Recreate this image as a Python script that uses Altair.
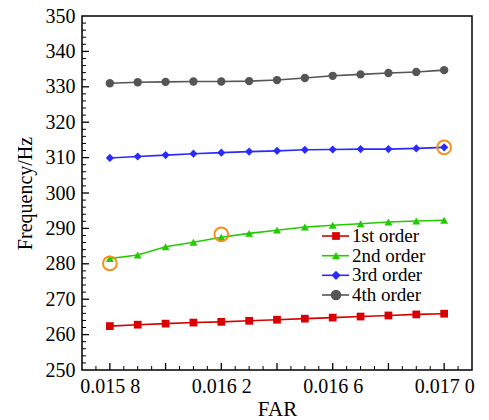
import altair as alt
import pandas as pd

far = [0.0158, 0.0159, 0.0160, 0.0161, 0.0162, 0.0163, 0.0164,
       0.0165, 0.0166, 0.0167, 0.0168, 0.0169, 0.0170]
series = ["1st order", "2nd order", "3rd order", "4th order"]
f1 = [262.4, 262.8, 263.1, 263.4, 263.6, 263.9, 264.2, 264.5, 264.8, 265.1, 265.4, 265.7, 265.9]
f2 = [281.5, 282.5, 284.8, 286.1, 287.5, 288.6, 289.5, 290.4, 290.9, 291.3, 291.8, 292.1, 292.3]
f3 = [309.9, 310.3, 310.7, 311.1, 311.4, 311.7, 311.9, 312.2, 312.3, 312.4, 312.4, 312.6, 312.9]
f4 = [331.0, 331.3, 331.4, 331.5, 331.5, 331.6, 331.9, 332.5, 333.1, 333.5, 333.9, 334.2, 334.7]
hl_far = [0.0158, 0.0162, 0.0170]
hl_freq = [280.1, 288.3, 312.9]

colors = ["#d80000", "#22cc00", "#2a2aff", "#555555"]
shapes = ["square", "triangle-up", "diamond", "circle"]
sizes = [60, 70, 85, 110]

x_label_ticks = [0.0158, 0.0162, 0.0166, 0.0170]
x_major_ticks = [0.0158, 0.0160, 0.0162, 0.0164, 0.0166, 0.0168, 0.0170]
x_minor_ticks = [0.01575, 0.01585, 0.01590, 0.01595, 0.01605,
                 0.01610, 0.01615, 0.01625, 0.01630, 0.01635,
                 0.01645, 0.01650, 0.01655, 0.01665, 0.01670, 0.01675,
                 0.01685, 0.01690, 0.01695, 0.01705]
y_major = [250, 260, 270, 280, 290, 300, 310, 320, 330, 340, 350]
y_major_ticks = [260, 270, 280, 290, 300, 310, 320, 330, 340]
y_minor = [252, 254, 256, 258, 262, 264, 266, 268, 272, 274, 276, 278,
           282, 284, 286, 288, 292, 294, 296, 298, 302, 304, 306, 308,
           312, 314, 316, 318, 322, 324, 326, 328, 332, 334, 336, 338,
           342, 344, 346, 348]

rows = []
for name, vals in zip(series, [f1, f2, f3, f4]):
    for xv, yv in zip(far, vals):
        rows.append({"FAR": xv, "freq": yv, "series": name})
df = pd.DataFrame(rows)
hl = pd.DataFrame({"FAR": hl_far, "freq": hl_freq})

W, H = 390, 354
FONT = "Liberation Serif"
X_LO, X_HI = 0.01570, 0.01710
Y_LO, Y_HI = 250, 350
xscale = alt.Scale(domain=[X_LO, X_HI], nice=False, zero=False)
yscale = alt.Scale(domain=[Y_LO, Y_HI], nice=False, zero=False)
cscale = alt.Scale(domain=series, range=colors)

lab_expr = ("substring(format(datum.value, '.4f'), 0, 5) + ' ' + "
            "substring(format(datum.value, '.4f'), 5)")

xaxis = alt.Axis(values=x_label_ticks, labelExpr=lab_expr, ticks=False,
                 domain=False, grid=False, title="FAR",
                 labelPadding=6, titlePadding=2, labelFont=FONT,
                 labelFontSize=20, titleFont=FONT, titleFontSize=21,
                 titleFontWeight="normal", labelColor="black",
                 titleColor="black", labelFlush=False)
yaxis = alt.Axis(values=y_major, ticks=False, domain=False,
                 grid=False, title="Frequency/Hz", labelPadding=7,
                 titlePadding=10, labelFont=FONT, labelFontSize=20,
                 titleFont=FONT, titleFontSize=20, titleFontWeight="normal",
                 labelColor="black", titleColor="black")

X = alt.X("FAR:Q", scale=xscale, axis=xaxis)
Y = alt.Y("freq:Q", scale=yscale, axis=yaxis)

lines = alt.Chart(df).mark_line(strokeWidth=1.6).encode(
    x=X, y=Y,
    color=alt.Color("series:N", scale=cscale, legend=None),
    detail="series:N",
)

points = alt.Chart(df).mark_point(filled=True, opacity=1).encode(
    x=X, y=Y,
    color=alt.Color("series:N", scale=cscale, legend=None),
    shape=alt.Shape("series:N", scale=alt.Scale(domain=series, range=shapes), legend=None),
    size=alt.Size("series:O", scale=alt.Scale(domain=series, range=sizes), legend=None),
)

circles = alt.Chart(hl).mark_point(filled=False, color="#f39020", size=190,
                                   strokeWidth=2, opacity=1).encode(x=X, y=Y)

# inward tick marks (tick length expressed as a small span of the axis units)
px_x = (X_HI - X_LO) / W
px_y = (Y_HI - Y_LO) / H


def xticks(vals, length, width):
    return alt.Chart(pd.DataFrame({"FAR": vals})).mark_rule(
        color="black", strokeWidth=width).encode(
        x=X,
        y=alt.YDatum(Y_LO, axis=yaxis, scale=yscale),
        y2=alt.Y2Datum(Y_LO + length * px_y))


def yticks(vals, length, width):
    return alt.Chart(pd.DataFrame({"freq": vals})).mark_rule(
        color="black", strokeWidth=width).encode(
        y=Y,
        x=alt.XDatum(X_LO, axis=xaxis, scale=xscale),
        x2=alt.X2Datum(X_LO + length * px_x))


tick_layers = [xticks(x_major_ticks, 7, 1.3), xticks(x_minor_ticks, 4, 1),
               yticks(y_major_ticks, 7, 1.3), yticks(y_minor, 4, 1)]

# legend drawn inside the plot
legend_rows_y = [220, 239.7, 259.3, 279]
legend_layers = []
for name, col, shp, sz, ly in zip(series, colors, shapes, sizes, legend_rows_y):
    src = pd.DataFrame({"series": [name]})
    legend_layers.append(alt.Chart(src).mark_rule(color=col, strokeWidth=1.6).encode(
        x=alt.value(240), x2=alt.value(267), y=alt.value(ly)))
    legend_layers.append(alt.Chart(src).mark_point(
        filled=True, opacity=1, color=col, shape=shp, size=sz).encode(
        x=alt.value(254), y=alt.value(ly)))
    legend_layers.append(alt.Chart(src).mark_text(
        align="left", baseline="middle", font=FONT, fontSize=19, color="black").encode(
        x=alt.value(270), y=alt.value(ly), text="series:N"))

chart = alt.layer(
    lines, points, circles, *tick_layers, *legend_layers
).properties(
    width=W, height=H,
    autosize=alt.AutoSizeParams(type="none"),
    padding={"left": 82, "top": 16, "right": 17, "bottom": 50},
    background="white",
).configure_view(stroke="black", strokeWidth=1.5)

chart.save("out.html", embed_options={"renderer": "svg", "actions": False})
